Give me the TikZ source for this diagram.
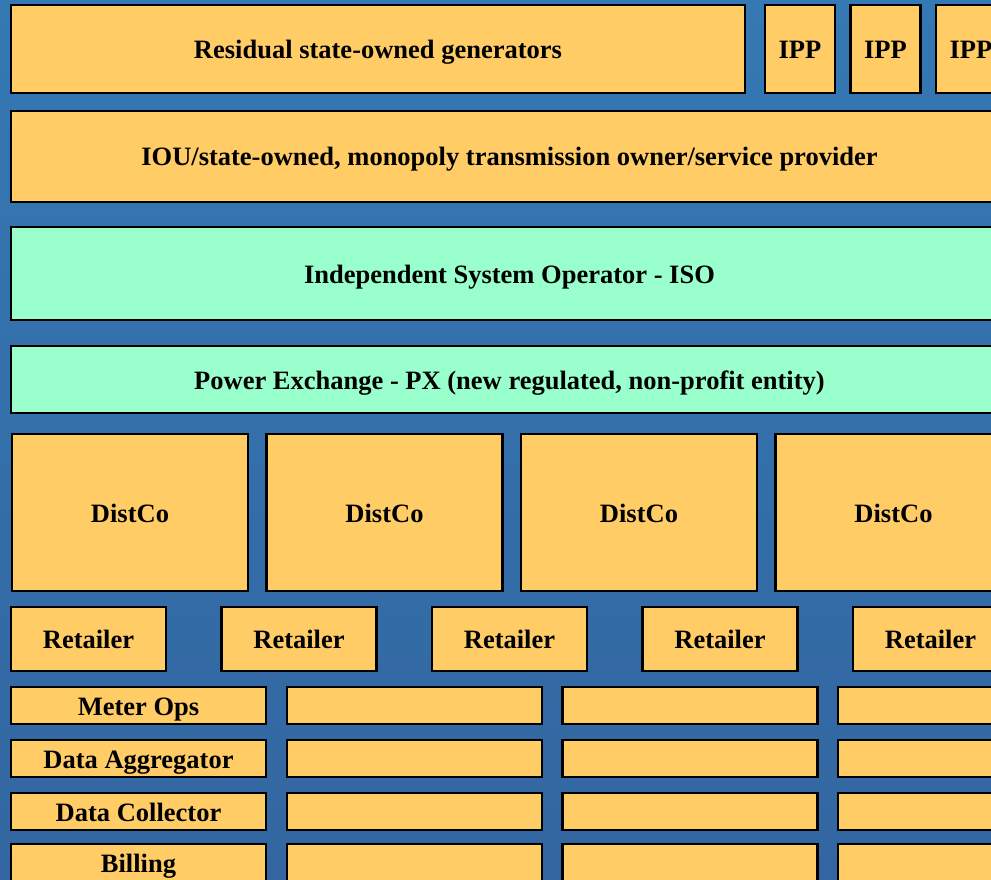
\documentclass[tikz,border=0pt]{standalone}
\usepackage{fontspec}
\setmainfont{Liberation Serif}
\usetikzlibrary{positioning}
\definecolor{bgtop}{HTML}{3478B4}
\definecolor{bgbot}{HTML}{3366A0}
\definecolor{sand}{HTML}{FFCC66}
\definecolor{mint}{HTML}{99FFCC}
\begin{document}
\begin{tikzpicture}[x=1pt,y=-1pt,
  ob/.style={draw=black,line width=2.6pt,fill=sand,inner sep=0pt,
    text height=19pt,text depth=0pt,
    font=\fontsize{26.5}{30}\selectfont\bfseries},
  gb/.style={ob,fill=mint},
  sb/.style={ob,minimum width=255pt,minimum height=37pt}]
\useasboundingbox (0,0) rectangle (991,880);
\clip (0,0) rectangle (991,880);
\shade[top color=bgtop,bottom color=bgbot] (0,0) rectangle (991,880);
\node[ob,minimum width=734pt,minimum height=88pt] (resid) at (378,49) {Residual state-owned generators};
\node[ob,minimum width=70pt,minimum height=88pt] (ipp1) at (800,49) {IPP};
\node[ob,minimum width=70pt,minimum height=88pt] (ipp2) at (885.5,49) {IPP};
\node[ob,minimum width=70pt,minimum height=88pt] (ipp3) at (971,49) {IPP};
\node[ob,minimum width=997pt,minimum height=91pt] (iou) at (509.5,156.5)
  {IOU/state-owned, monopoly transmission owner/service provider};
\node[gb,minimum width=997pt,minimum height=93pt] (iso) at (509.5,273.5)
  {Independent System Operator - ISO};
\node[gb,minimum width=997pt,minimum height=67pt] (px) at (509.5,379.5)
  {Power Exchange - PX (new regulated, non-profit entity)};
\node[ob,minimum width=236pt,minimum height=157pt] (dc1) at (130,512.5) {DistCo};
\node[ob,minimum width=236pt,minimum height=157pt] (dc2) at (384.5,512.5) {DistCo};
\node[ob,minimum width=236pt,minimum height=157pt] (dc3) at (639,512.5) {DistCo};
\node[ob,minimum width=236pt,minimum height=157pt] (dc4) at (893.5,512.5) {DistCo};
\node[ob,minimum width=155pt,minimum height=64pt] (ret1) at (88.5,639) {Retailer};
\node[ob,minimum width=155pt,minimum height=64pt] (ret2) at (299,639) {Retailer};
\node[ob,minimum width=155pt,minimum height=64pt] (ret3) at (509.5,639) {Retailer};
\node[ob,minimum width=155pt,minimum height=64pt] (ret4) at (720,639) {Retailer};
\node[ob,minimum width=155pt,minimum height=64pt] (ret5) at (930.5,639) {Retailer};
\node[sb] (mops) at (138.5,705.5) {Meter Ops};
\node[sb] (mops2) at (414.5,705.5) {};
\node[sb] (mops3) at (690,705.5) {};
\node[sb] (mops4) at (965.5,705.5) {};
\node[sb] (dagg) at (138.5,758.5) {Data Aggregator};
\node[sb] (dagg2) at (414.5,758.5) {};
\node[sb] (dagg3) at (690,758.5) {};
\node[sb] (dagg4) at (965.5,758.5) {};
\node[sb] (dcol) at (138.5,811.5) {Data Collector};
\node[sb] (dcol2) at (414.5,811.5) {};
\node[sb] (dcol3) at (690,811.5) {};
\node[sb] (dcol4) at (965.5,811.5) {};
\node[sb] (bill) at (138.5,862.5) {Billing};
\node[sb] (bill2) at (414.5,862.5) {};
\node[sb] (bill3) at (690,862.5) {};
\node[sb] (bill4) at (965.5,862.5) {};
\end{tikzpicture}
\end{document}
